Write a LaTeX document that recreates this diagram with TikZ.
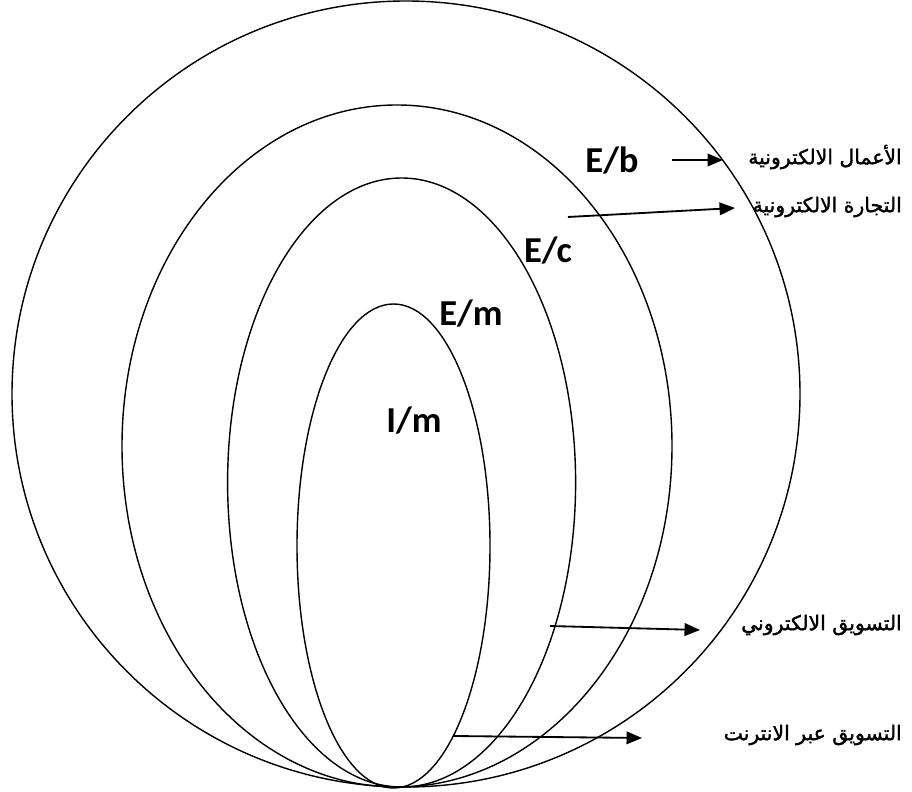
\documentclass[tikz,border=0pt]{standalone}
\usepackage{fontspec}
\setsansfont{Carlito}
\newfontfamily\arabicfont[Script=Arabic,FakeBold=1.6]{DejaVu Sans}
\TeXXeTstate=1
\usetikzlibrary{arrows.meta}
\definecolor{ink}{HTML}{000000}

\begin{document}
\begin{tikzpicture}[x=1cm,y=1cm,line join=round,
  ring/.style={ink,line width=1pt},
  tag/.style={font=\sffamily\bfseries\fontsize{26}{30}\selectfont,text=ink,anchor=base},
  arlbl/.style={font=\arabicfont\fontsize{14.5}{17}\selectfont,text=ink,anchor=east,inner sep=0pt},
  flow/.style={-{Triangle[length=11pt,width=9pt]},ink,line width=1.3pt}]
  \useasboundingbox (0,0) rectangle (22.8,19.8);

  % ===== nested ellipses (all touch at the bottom) =====
  \draw[ring] (10.15,9.95) ellipse (9.85 and 9.825);      % E/b
  \draw[ring] (9.925,8.65) ellipse (6.875 and 8.525);     % E/c
  \draw[ring] (10.04,7.7375) ellipse (4.35 and 7.6125);   % E/m
  \draw[ring] (9.8375,6.15) ellipse (2.4125 and 6.05);    % I/m

  % ===== short names =====
  \node[tag] (eb) at (15.3,15.475) {E/b};
  \node[tag] (ec) at (13.7,13.225) {E/c};
  \node[tag] (em) at (11.775,11.65) {E/m};
  \node[tag] (im) at (10.35,8.975) {I/m};

  % ===== arabic labels =====
  \node[arlbl] (lb) at (22.55,15.875) {\beginR الأعمال الالكترونية\endR};
  \node[arlbl] (lc) at (22.55,14.625) {\beginR التجارة الالكترونية\endR};
  \node[arlbl] (lm) at (22.55,4.175) {\beginR التسويق الالكتروني\endR};
  \node[arlbl] (li) at (22.55,1.425) {\beginR التسويق عبر الانترنت\endR};

  % ===== arrows =====
  \coordinate (bs) at (16.8,15.8);   \coordinate (be) at (18.075,15.8);
  \coordinate (cs) at (14.2,14.375); \coordinate (ce) at (18.375,14.6);
  \coordinate (ms) at (13.75,4.15);  \coordinate (me) at (17.5,4.05);
  \coordinate (is) at (11.325,1.4);  \coordinate (ie) at (16.05,1.35);
  \draw[flow] (bs) -- (be);
  \draw[flow] (cs) -- (ce);
  \draw[flow] (ms) -- (me);
  \draw[flow] (is) -- (ie);
\end{tikzpicture}
\end{document}
